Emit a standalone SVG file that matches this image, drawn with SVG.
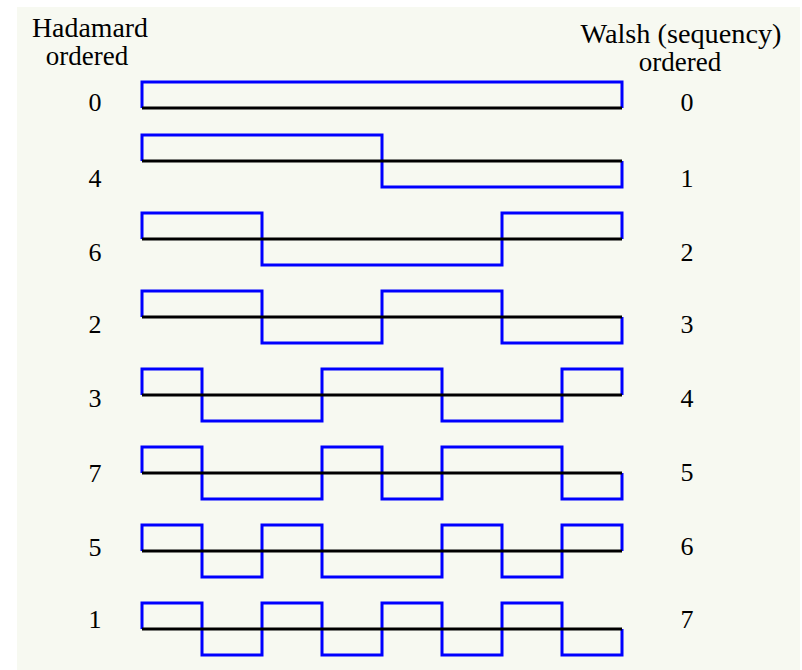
<svg xmlns="http://www.w3.org/2000/svg" width="802" height="670" viewBox="0 0 802 670">
  <style>
    .lbl { font-family: "Liberation Serif", "Times New Roman", serif; font-size: 26px; fill: #000; text-anchor: middle; }
    .hdr { font-family: "Liberation Serif", "Times New Roman", serif; font-size: 27px; fill: #000; text-anchor: middle; }
    .wave { fill: none; stroke: #0000ff; stroke-width: 3; stroke-linejoin: miter; }
    .axis { fill: none; stroke: #000; stroke-width: 3; }
  </style>
  <rect x="0" y="0" width="802" height="670" fill="#ffffff"/>
  <rect x="17" y="7" width="783" height="663" fill="#f7f9f1"/>

  <g id="headers">
    <text class="hdr" x="90" y="37" textLength="116" lengthAdjust="spacingAndGlyphs">Hadamard</text>
    <text class="hdr" x="87" y="65">ordered</text>
    <text class="hdr" x="681" y="43" textLength="201" lengthAdjust="spacingAndGlyphs">Walsh (sequency)</text>
    <text class="hdr" x="680" y="71">ordered</text>
  </g>

  <g id="row0">
    <path class="wave" d="M142,108 V82 H622 V108"/>
    <line class="axis" x1="142" y1="108" x2="622" y2="108"/>
    <text class="lbl" x="95" y="111">0</text>
    <text class="lbl" x="687" y="111">0</text>
  </g>
  <g id="row1">
    <path class="wave" d="M142,161 V135 H382 V187 H622 V161"/>
    <line class="axis" x1="142" y1="161" x2="622" y2="161"/>
    <text class="lbl" x="95" y="187">4</text>
    <text class="lbl" x="687" y="187">1</text>
  </g>
  <g id="row2">
    <path class="wave" d="M142,239 V213 H262 V265 H502 V213 H622 V239"/>
    <line class="axis" x1="142" y1="239" x2="622" y2="239"/>
    <text class="lbl" x="95" y="261">6</text>
    <text class="lbl" x="687" y="261">2</text>
  </g>
  <g id="row3">
    <path class="wave" d="M142,317 V291 H262 V343 H382 V291 H502 V343 H622 V317"/>
    <line class="axis" x1="142" y1="317" x2="622" y2="317"/>
    <text class="lbl" x="95" y="333">2</text>
    <text class="lbl" x="687" y="333">3</text>
  </g>
  <g id="row4">
    <path class="wave" d="M142,395 V369 H202 V421 H322 V369 H442 V421 H562 V369 H622 V395"/>
    <line class="axis" x1="142" y1="395" x2="622" y2="395"/>
    <text class="lbl" x="95" y="407">3</text>
    <text class="lbl" x="687" y="407">4</text>
  </g>
  <g id="row5">
    <path class="wave" d="M142,473 V447 H202 V499 H322 V447 H382 V499 H442 V447 H562 V499 H622 V473"/>
    <line class="axis" x1="142" y1="473" x2="622" y2="473"/>
    <text class="lbl" x="95" y="482">7</text>
    <text class="lbl" x="687" y="481">5</text>
  </g>
  <g id="row6">
    <path class="wave" d="M142,551 V525 H202 V577 H262 V525 H322 V577 H442 V525 H502 V577 H562 V525 H622 V551"/>
    <line class="axis" x1="142" y1="551" x2="622" y2="551"/>
    <text class="lbl" x="95" y="556">5</text>
    <text class="lbl" x="687" y="555">6</text>
  </g>
  <g id="row7">
    <path class="wave" d="M142,629 V603 H202 V655 H262 V603 H322 V655 H382 V603 H442 V655 H502 V603 H562 V655 H622 V629"/>
    <line class="axis" x1="142" y1="629" x2="622" y2="629"/>
    <text class="lbl" x="95" y="628">1</text>
    <text class="lbl" x="687" y="628">7</text>
  </g>
</svg>
